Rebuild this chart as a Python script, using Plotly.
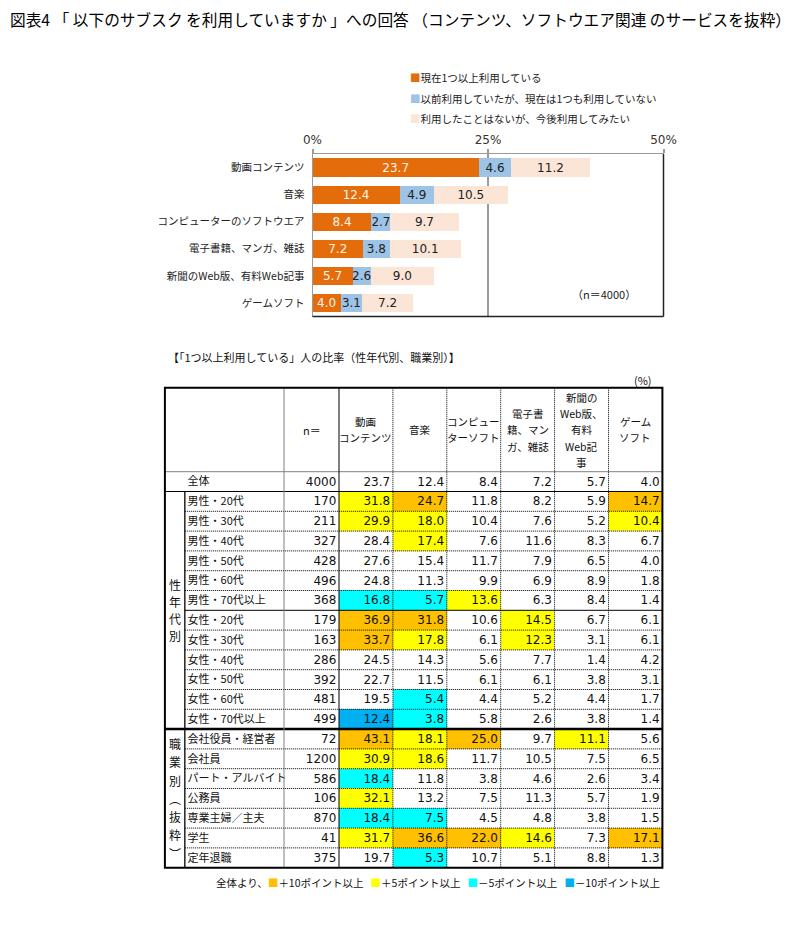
import plotly.graph_objects as go

# ---------------- data ----------------
TITLE = "図表4 「 以下のサブスク を利用していますか 」への回答 （コンテンツ、ソフトウエア関連 のサービスを抜粋）"

BAR_CATEGORIES = ["動画コンテンツ", "音楽", "コンピューターのソフトウエア",
                  "電子書籍、マンガ、雑誌", "新聞のWeb版、有料Web記事", "ゲームソフト"]
SERIES_NAMES = ["現在1つ以上利用している",
                "以前利用していたが、現在は1つも利用していない",
                "利用したことはないが、今後利用してみたい"]
USING_NOW = [23.7, 12.4, 8.4, 7.2, 5.7, 4.0]
USED_BEFORE = [4.6, 4.9, 2.7, 3.8, 2.6, 3.1]
WANT_TO_USE = [11.2, 10.5, 9.7, 10.1, 9.0, 7.2]
X_TICK_VALUES = [0, 25, 50]
X_TICK_LABELS = ["0%", "25%", "50%"]
SAMPLE_NOTE = "（n＝4000）"

TABLE_TITLE = "【「1つ以上利用している」人の比率（性年代別、職業別）】"
UNIT_NOTE = "(%)"
N_HEADER = "n＝"
COLUMN_HEADERS = ["動画<br>コンテンツ", "音楽", "コンピュー<br>ターソフト",
                  "電子書<br>籍、マン<br>ガ、雑誌", "新聞の<br>Web版、<br>有料<br>Web記<br>事",
                  "ゲーム<br>ソフト"]
ROW_LABELS = ["全体",
              "男性・20代", "男性・30代", "男性・40代", "男性・50代", "男性・60代", "男性・70代以上",
              "女性・20代", "女性・30代", "女性・40代", "女性・50代", "女性・60代", "女性・70代以上",
              "会社役員・経営者", "会社員", "パート・アルバイト", "公務員", "専業主婦／主夫", "学生", "定年退職"]
ROW_N = [4000, 170, 211, 327, 428, 496, 368, 179, 163, 286, 392, 481, 499,
         72, 1200, 586, 106, 870, 41, 375]
VIDEO = [23.7, 31.8, 29.9, 28.4, 27.6, 24.8, 16.8, 36.9, 33.7, 24.5, 22.7, 19.5, 12.4,
         43.1, 30.9, 18.4, 32.1, 18.4, 31.7, 19.7]
MUSIC = [12.4, 24.7, 18.0, 17.4, 15.4, 11.3, 5.7, 31.8, 17.8, 14.3, 11.5, 5.4, 3.8,
         18.1, 18.6, 11.8, 13.2, 7.5, 36.6, 5.3]
SOFTWARE = [8.4, 11.8, 10.4, 7.6, 11.7, 9.9, 13.6, 10.6, 6.1, 5.6, 6.1, 4.4, 5.8,
            25.0, 11.7, 3.8, 7.5, 4.5, 22.0, 10.7]
EBOOK = [7.2, 8.2, 7.6, 11.6, 7.9, 6.9, 6.3, 14.5, 12.3, 7.7, 6.1, 5.2, 2.6,
         9.7, 10.5, 4.6, 11.3, 4.8, 14.6, 5.1]
NEWS = [5.7, 5.9, 5.2, 8.3, 6.5, 8.9, 8.4, 6.7, 3.1, 1.4, 3.8, 4.4, 3.8,
        11.1, 7.5, 2.6, 5.7, 3.8, 7.3, 8.8]
GAME = [4.0, 14.7, 10.4, 6.7, 4.0, 1.8, 1.4, 6.1, 6.1, 4.2, 3.1, 1.7, 1.4,
        5.6, 6.5, 3.4, 1.9, 1.5, 17.1, 1.3]
# highlight level: 2 = +10pt, 1 = +5pt, -1 = -5pt, -2 = -10pt, 0 = none
HIGHLIGHT = [
    [0, 0, 0, 0, 0, 0],
    [1, 2, 0, 0, 0, 2],
    [1, 1, 0, 0, 0, 1],
    [0, 1, 0, 0, 0, 0],
    [0, 0, 0, 0, 0, 0],
    [0, 0, 0, 0, 0, 0],
    [-1, -1, 1, 0, 0, 0],
    [2, 2, 0, 1, 0, 0],
    [2, 1, 0, 1, 0, 0],
    [0, 0, 0, 0, 0, 0],
    [0, 0, 0, 0, 0, 0],
    [0, -1, 0, 0, 0, 0],
    [-2, -1, 0, 0, 0, 0],
    [2, 1, 2, 0, 1, 0],
    [1, 1, 0, 0, 0, 0],
    [-1, 0, 0, 0, 0, 0],
    [1, 0, 0, 0, 0, 0],
    [-1, -1, 0, 0, 0, 0],
    [1, 2, 2, 1, 0, 2],
    [0, -1, 0, 0, 0, 0],
]
GROUP_LABELS = ["性年代別", "職業別︵抜粋︶"]
GROUP_ROW_COUNTS = [12, 7]
HL_LEGEND_PREFIX = "全体より、"
HL_LEVELS = [2, 1, -1, -2]
HL_LEGEND_TEXT = ["＋10ポイント以上", "＋5ポイント以上", "－5ポイント以上", "－10ポイント以上"]

# ---------------- style ----------------
OFF = 8                     # page body margin of the html page
W, H = 810 - OFF, 930 - OFF
JP = "Noto Sans CJK JP"
NUM = "DejaVu Sans"
BAR_COLORS = ["#E46C0A", "#9DC3E6", "#FBE5D6"]
BAR_TEXT_COLORS = ["#FFF4EA", "#222222", "#222222"]
HL_COLORS = {2: "#FFC000", 1: "#FFFF00", -1: "#00FFFF", -2: "#00B0F0"}

def px_x(p):
    return (p - OFF) / W

def px_y(p):
    return 1 - (p - OFF) / H

# table geometry (column units / row units)
PX_X0, UX = 339.0, 53.9
PX_Y0, UY = 471.7, 19.8
X_LEFT, X_GROUP, X_NCOL, X_RIGHT = -3.23, -2.86, -1.02, 6.0
Y_TOP, Y_BOTTOM = -4.24, 20.0
XR = [X_LEFT - 0.08, X_RIGHT + 0.08]
YR = [Y_BOTTOM + 0.2, Y_TOP - 0.2]
HDR_LINE = 16.3 / UY
GROUP_CHAR_SPACING = [17.0 / UY, 18.3 / UY]

fig = go.Figure()

# ---------------- bar chart ----------------
for name, vals, col, tcol in zip(SERIES_NAMES, [USING_NOW, USED_BEFORE, WANT_TO_USE],
                                 BAR_COLORS, BAR_TEXT_COLORS):
    fig.add_trace(go.Bar(
        y=BAR_CATEGORIES, x=vals, orientation="h", name=name,
        marker=dict(color=col, line=dict(width=0)),
        text=[f"{v:.1f}" for v in vals], textposition="inside",
        insidetextanchor="middle", textangle=0, constraintext="none",
        textfont=dict(family=NUM, size=12, color=tcol),
        hoverinfo="skip", showlegend=False, xaxis="x", yaxis="y"))

# ---------------- table ----------------
columns = [VIDEO, MUSIC, SOFTWARE, EBOOK, NEWS, GAME]
nrows = len(ROW_LABELS)
z = [[(HIGHLIGHT[i][j] if HIGHLIGHT[i][j] != 0 else None) for j in range(6)] for i in range(nrows)]
fig.add_trace(go.Heatmap(
    z=z, x=[j + 0.5 for j in range(6)], y=[i + 0.5 for i in range(nrows)],
    zmin=-2, zmax=2, showscale=False, hoverinfo="skip",
    colorscale=[[0, HL_COLORS[-2]], [0.125, HL_COLORS[-2]], [0.125, HL_COLORS[-1]],
                [0.5, HL_COLORS[-1]], [0.5, HL_COLORS[1]], [0.875, HL_COLORS[1]],
                [0.875, HL_COLORS[2]], [1, HL_COLORS[2]]],
    xaxis="x2", yaxis="y2"))

tx, ty, tt = [], [], []
for j, col in enumerate(columns):
    for i, v in enumerate(col):
        tx.append(j + 1 - 0.05)
        ty.append(i + 0.55)
        tt.append(f"{v:.1f}")
for i, n in enumerate(ROW_N):
    tx.append(-0.05)
    ty.append(i + 0.55)
    tt.append(str(n))
fig.add_trace(go.Scatter(x=tx, y=ty, text=tt, mode="text", textposition="middle left",
                         textfont=dict(family=NUM, size=12, color="#111"),
                         hoverinfo="skip", showlegend=False, cliponaxis=False,
                         xaxis="x2", yaxis="y2"))
fig.add_trace(go.Scatter(x=[X_GROUP + 0.05] * nrows, y=[i + 0.55 for i in range(nrows)],
                         text=ROW_LABELS, mode="text", textposition="middle right",
                         textfont=dict(family=JP, size=11, color="#111"),
                         hoverinfo="skip", showlegend=False, cliponaxis=False,
                         xaxis="x2", yaxis="y2"))

annotations = []
hdr_y = (Y_TOP + 0) / 2
for j, h in enumerate(COLUMN_HEADERS):
    lines = h.split("<br>")
    for k, ln in enumerate(lines):
        annotations.append(dict(x=j + 0.5, y=hdr_y + (k - (len(lines) - 1) / 2) * HDR_LINE,
                                xref="x2", yref="y2", text=ln, showarrow=False,
                                font=dict(family=JP, size=10.5, color="#111")))
annotations.append(dict(x=(X_NCOL + 0) / 2, y=hdr_y, xref="x2", yref="y2", text=N_HEADER,
                        showarrow=False, font=dict(family=JP, size=11, color="#111")))
start = 1
for lbl, cnt, sp in zip(GROUP_LABELS, GROUP_ROW_COUNTS, GROUP_CHAR_SPACING):
    center = start + cnt / 2
    chars = list(lbl)
    for k, ch in enumerate(chars):
        annotations.append(dict(x=(X_LEFT + X_GROUP) / 2,
                                y=center + (k - (len(chars) - 1) / 2) * sp,
                                xref="x2", yref="y2", text=ch, showarrow=False,
                                font=dict(family=JP, size=12, color="#111")))
    start += cnt

# lines
shapes = []
def line(x0, x1, y0, y1, color="#000", width=1, dash="solid"):
    shapes.append(dict(type="line", xref="x2", yref="y2", x0=x0, x1=x1, y0=y0, y1=y1,
                       line=dict(color=color, width=width, dash=dash), layer="above"))

DOT = "1px,1px"
line(X_LEFT, X_RIGHT, 0, 0, "#808080", 1)
line(X_LEFT, X_RIGHT, 1, 1, "#000", 1)
group_ends = []
s = 1
for cnt in GROUP_ROW_COUNTS:
    s += cnt
    group_ends.append(s)
for r in range(2, nrows):
    if r in group_ends:
        line(X_LEFT, X_RIGHT, r, r, "#000", 2.5)
    elif r == 7:
        line(X_GROUP, X_RIGHT, r, r, "#000", 1)
    else:
        line(X_GROUP, X_RIGHT, r, r, "#000", 1, DOT)
line(X_GROUP, X_GROUP, 1, Y_BOTTOM, "#000", 1.3)
line(X_NCOL, X_NCOL, Y_TOP, Y_BOTTOM, "#808080", 1)
line(0, 0, Y_TOP, Y_BOTTOM, "#000", 1)
for j in range(1, 6):
    line(j, j, Y_TOP, Y_BOTTOM, "#000", 1, DOT)
shapes.append(dict(type="rect", xref="x2", yref="y2", x0=X_LEFT, x1=X_RIGHT, y0=Y_TOP, y1=Y_BOTTOM,
                   line=dict(color="#000", width=2), fillcolor="rgba(0,0,0,0)", layer="above"))

# bar chart frame: dark right and bottom edges
shapes.append(dict(type="line", xref="x domain", yref="y domain", x0=1, x1=1, y0=0, y1=1,
                   line=dict(color="#222", width=1.5), layer="above"))
shapes.append(dict(type="line", xref="x domain", yref="y domain", x0=0, x1=1, y0=0, y1=0,
                   line=dict(color="#222", width=1.5), layer="above"))

# ---------------- texts ----------------
annotations.append(dict(x=0, y=px_y(19), xref="paper", yref="paper", xanchor="left",
                        yanchor="middle", text=TITLE, showarrow=False,
                        font=dict(family=JP, size=15.7, color="#000")))
for k, (name, col) in enumerate(zip(SERIES_NAMES, BAR_COLORS)):
    annotations.append(dict(x=px_x(408), y=px_y(78 + k * 20.5), xref="paper", yref="paper",
                            xanchor="left", yanchor="middle", showarrow=False,
                            text=f"<span style='color:{col}'>■</span>{name}",
                            font=dict(family=JP, size=10.5, color="#222")))
annotations.append(dict(x=px_x(638), y=px_y(294), xref="paper", yref="paper", xanchor="right",
                        yanchor="middle", text=SAMPLE_NOTE, showarrow=False,
                        font=dict(family=JP, size=11, color="#222")))
annotations.append(dict(x=px_x(166), y=px_y(357), xref="paper", yref="paper", xanchor="left",
                        yanchor="middle", text=TABLE_TITLE, showarrow=False,
                        font=dict(family=JP, size=11, color="#111")))
annotations.append(dict(x=px_x(654), y=px_y(380), xref="paper", yref="paper", xanchor="right",
                        yanchor="middle", text=UNIT_NOTE, showarrow=False,
                        font=dict(family=JP, size=11, color="#111")))
legend_parts = []
for lvl, txt in zip(HL_LEVELS, HL_LEGEND_TEXT):
    legend_parts.append(f"<span style='color:{HL_COLORS[lvl]}'>■</span>{txt}")
annotations.append(dict(x=px_x(662), y=px_y(882), xref="paper", yref="paper", xanchor="right",
                        yanchor="middle", text=HL_LEGEND_PREFIX + "   ".join(legend_parts),
                        showarrow=False, font=dict(family=JP, size=10.5, color="#111")))

fig.update_layout(
    width=W, height=H, margin=dict(l=0, r=0, t=0, b=0, pad=0, autoexpand=False),
    paper_bgcolor="white", plot_bgcolor="white",
    barmode="stack", bargap=0.33, showlegend=False,
    xaxis=dict(domain=[px_x(312.5), px_x(663.5)], range=[0, 50], side="top",
               tickvals=X_TICK_VALUES, ticktext=X_TICK_LABELS,
               ticks="outside", ticklen=4, tickcolor="#9a9a9a", tickwidth=1.5,
               tickfont=dict(family=NUM, size=12, color="#333"),
               showgrid=True, gridcolor="#9a9a9a", gridwidth=1.5, zeroline=False,
               showline=True, mirror=False, linecolor="#9a9a9a", linewidth=1,
               anchor="y", fixedrange=True, automargin=False),
    yaxis=dict(domain=[px_y(316.5), px_y(154)], type="category",
               categoryorder="array", categoryarray=BAR_CATEGORIES,
               range=[5.5, -0.5], ticks="", showgrid=False, zeroline=False,
               showline=True, mirror=False, linecolor="#9a9a9a", linewidth=1,
               ticklabelstandoff=5,
               tickfont=dict(family=JP, size=10.5, color="#222"), anchor="x",
               fixedrange=True, automargin=False),
    xaxis2=dict(domain=[px_x(PX_X0 + XR[0] * UX), px_x(PX_X0 + XR[1] * UX)], range=XR,
                visible=False, anchor="y2", fixedrange=True, automargin=False),
    yaxis2=dict(domain=[px_y(PX_Y0 + YR[0] * UY), px_y(PX_Y0 + YR[1] * UY)], range=YR,
                visible=False, anchor="x2", fixedrange=True, automargin=False),
    shapes=shapes, annotations=annotations,
    font=dict(family=JP),
)

fig.write_html("out.html")
